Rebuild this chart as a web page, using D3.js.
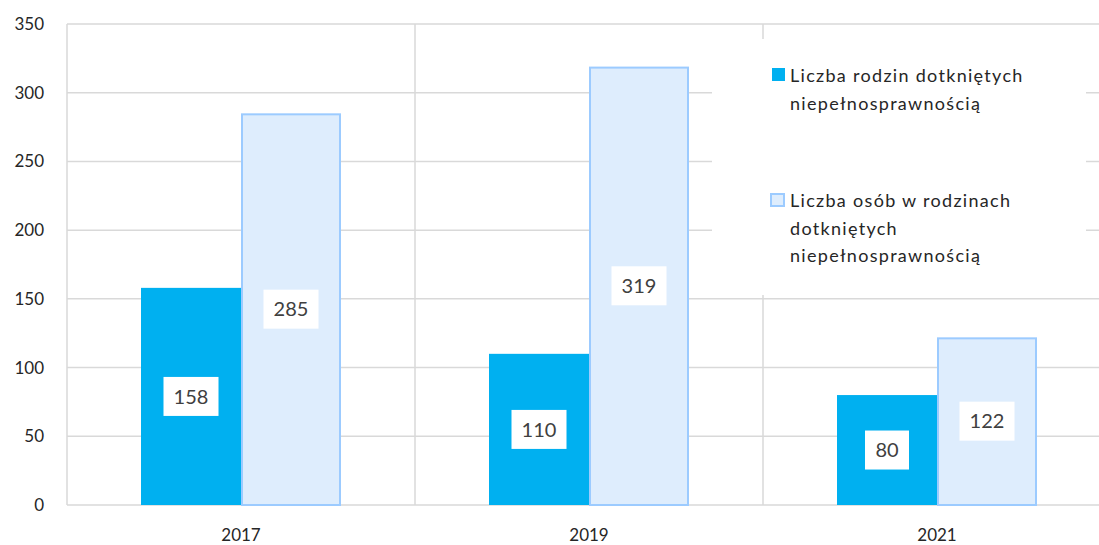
<!DOCTYPE html>
<html><head><meta charset="utf-8">
<script src="https://cdn.jsdelivr.net/npm/d3@7"></script>
<style>body{margin:0;background:#fff;}svg{display:block;font-family:Lato,"Open Sans",sans-serif;}</style>
</head><body>
<svg id="c" width="1099" height="545"></svg>
<script>
const categories = ["2017", "2019", "2021"];
const seriesNames = ["Liczba rodzin dotkniętych niepełnosprawnością", "Liczba osób w rodzinach dotkniętych niepełnosprawnością"];
const families = [158, 110, 80];
const persons = [285, 319, 122];
const yTicks = [0, 50, 100, 150, 200, 250, 300, 350];
const legendLines = [["Liczba rodzin dotkniętych", "niepełnosprawnością"], ["Liczba osób w rodzinach", "dotkniętych", "niepełnosprawnością"]];

const svg = d3.select("#c");
const x0 = d3.scaleBand().domain(categories).range([67, 1111]).padding(0);
const x1 = d3.scaleBand().domain([0, 1]).range([74, 274]).padding(0);
const y = d3.scaleLinear().domain([0, 350]).range([505, 24]);
const grid = "#d9d9d9";

svg.append("g").selectAll("line").data(yTicks).join("line")
  .attr("x1", 67).attr("x2", 1111).attr("y1", d => y(d)).attr("y2", d => y(d))
  .attr("stroke", grid).attr("stroke-width", 1.5);
const bounds = categories.map(c => x0(c)).concat([x0.range()[1]]);
svg.append("g").selectAll("line").data(bounds).join("line")
  .attr("x1", d => d).attr("x2", d => d).attr("y1", y(350)).attr("y2", y(0))
  .attr("stroke", grid).attr("stroke-width", 1.5);

svg.append("g").selectAll("text").data(yTicks).join("text")
  .attr("x", 44).attr("y", d => y(d)).attr("dy", "0.35em").attr("text-anchor", "end")
  .attr("font-size", 17).attr("fill", "#262626").text(d => d);
svg.append("g").selectAll("text").data(categories).join("text")
  .attr("x", d => x0(d) + x0.bandwidth() / 2).attr("y", 541).attr("text-anchor", "middle")
  .attr("font-size", 17).attr("fill", "#262626").text(d => d);

const series = [families, persons];
const fills = ["#00b0f0", "#deedfd"];
const strokes = ["none", "#9ccbff"];
series.forEach((vals, si) => {
  const g = svg.append("g");
  g.selectAll("rect").data(vals).join("rect")
    .attr("x", (d, i) => x0(categories[i]) + x1(si) + (si ? 1 : 0))
    .attr("width", x1.bandwidth() - (si ? 2 : 0))
    .attr("y", d => y(d) + (si ? 1 : 0))
    .attr("height", d => y(0) - y(d) - (si ? 1 : 0))
    .attr("fill", fills[si]).attr("stroke", strokes[si]).attr("stroke-width", 2);
});
series.forEach((vals, si) => {
  const g = svg.append("g");
  vals.forEach((d, i) => {
    const cx = x0(categories[i]) + x1(si) + x1.bandwidth() / 2;
    const cy = (y(d) + y(0)) / 2;
    const t = String(d);
    const w = t.length * 11 + 22;
    g.append("rect").attr("x", cx - w / 2).attr("y", cy - 19.5).attr("width", w).attr("height", 39).attr("fill", "#fff");
    g.append("text").attr("x", cx).attr("y", cy).attr("dy", "0.36em").attr("text-anchor", "middle")
      .attr("font-size", 20).attr("fill", "#404040").text(t);
  });
});

const lg = svg.append("g");
lg.append("rect").attr("x", 712).attr("y", 39).attr("width", 374).attr("height", 256).attr("fill", "#fff");
const legendTop = [82, 207];
legendLines.forEach((lines, si) => {
  const by = legendTop[si];
  lg.append("rect").attr("x", si ? 771 : 772).attr("y", by - 14 + (si ? 1 : 0)).attr("width", 13).attr("height", si ? 12 : 13)
    .attr("fill", fills[si]).attr("stroke", strokes[si]).attr("stroke-width", 2);
  lines.forEach((ln, k) => {
    lg.append("text").attr("x", 790).attr("y", by + k * 27.5).attr("font-size", 18).attr("letter-spacing", 1.3)
      .attr("fill", "#262626").text(ln);
  });
});
</script>
</body></html>
